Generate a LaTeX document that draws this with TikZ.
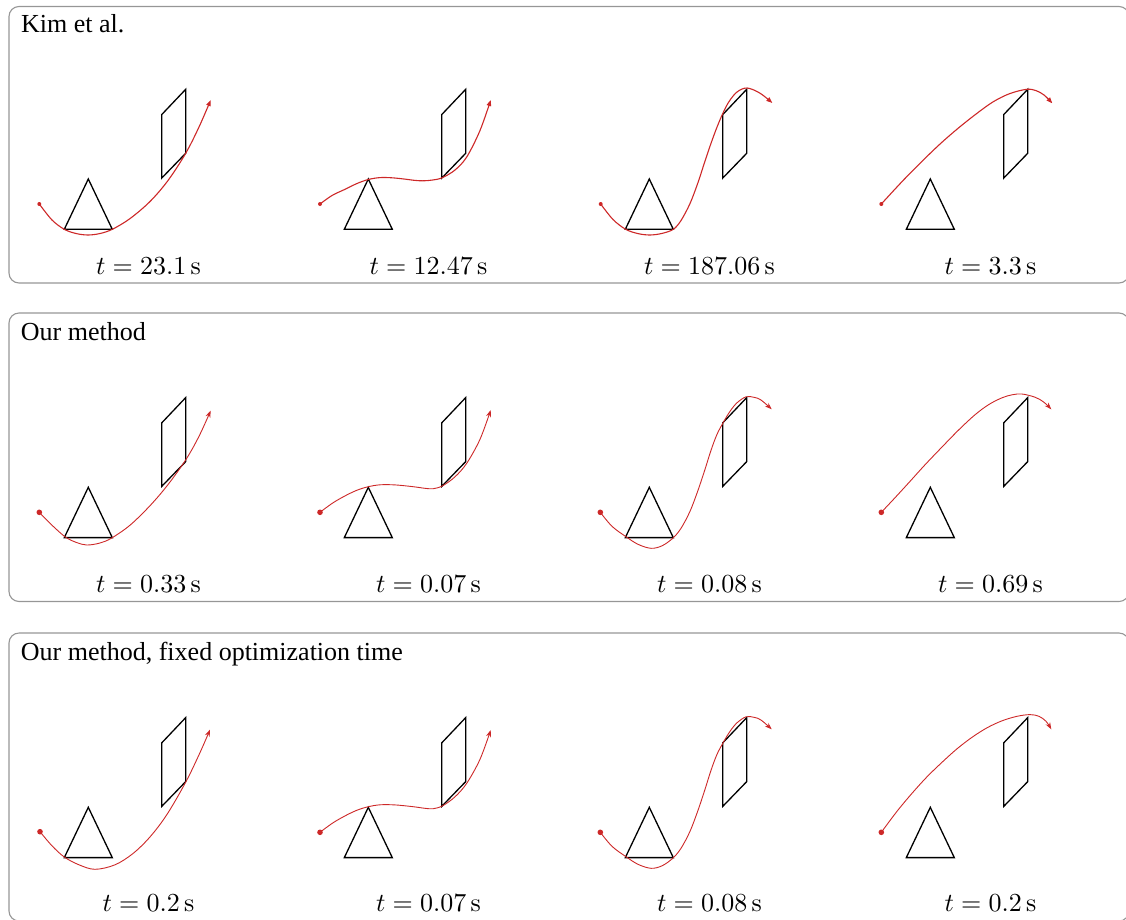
\documentclass[tikz,border=0pt]{standalone}
\usepackage[no-math]{fontspec}
\setmainfont{Liberation Serif}
\DeclareFontShape{OT1}{cmr}{m}{n}{<->cmr10}{}
\DeclareFontShape{OML}{cmm}{m}{it}{<->cmmi10}{}
\DeclareFontShape{OMS}{cmsy}{m}{n}{<->cmsy10}{}
\DeclareFontShape{OMX}{cmex}{m}{n}{<->cmex10}{}
\usetikzlibrary{arrows.meta}
\definecolor{trajred}{RGB}{205,40,40}
\definecolor{panelgray}{RGB}{150,150,150}
\tikzset{
  panelbox/.style={draw=panelgray, line width=1.1pt, rounded corners=10pt},
  obst/.style={draw=black, line width=1.3pt, line join=miter},
  trajA/.style={draw=trajred, line width=1.1pt, -{Triangle[length=6pt,width=4.5pt]}},
  trajB/.style={draw=trajred, line width=0.9pt, -{Stealth[length=7pt,width=5pt]}},
  paneltitle/.style={anchor=base west, inner sep=0pt, font=\fontsize{26}{30}\selectfont},
  tlabel/.style={anchor=base, inner sep=0pt, font=\fontsize{26}{30}\selectfont},
  sm/.style={smooth, tension=0.55},
}
\newcommand\obstacles{%
  \draw[obst] (88.3,179) -- (64.3,229.3) -- (112.3,229.3) -- cycle;
  \draw[obst] (185.7,89.3) -- (161.8,114.5) -- (161.8,178) -- (185.7,153.3) -- cycle;}
% shared trajectories of panels 2 and 3
\newcommand\trajBtwo{(40,204) (53,194.5) (66.7,186.7) (78,181.5) (88.3,178.4) (100,176.5) (115,176.6) (133.3,178.4) (145,180) (153.3,180.4) (162.7,177.4) (175,168.5) (186.7,155) (200,131) (210.7,101.7)}
\newcommand\trajBthree{(39.3,204) (51,218) (65,228.4) (77,236) (90,240) (101,237.5) (111.7,230) (120,220) (129,203) (137,182) (144,161) (150,142) (156,126) (162.7,113.4) (169,103) (176,94.5) (185,88.5) (193,89) (200,91.7) (210.7,101)}
\begin{document}
\begin{tikzpicture}[x=1pt,y=-1pt]
\useasboundingbox (0,0) rectangle (1126,919);
% panels
\draw[panelbox] (9,6.5) rectangle (1129,283);
\draw[panelbox] (9,313) rectangle (1129,601.5);
\draw[panelbox] (9,633) rectangle (1129,921);
\node[paneltitle] (title1) at (21,32.3) {Kim et al.};
\node[paneltitle] (title2) at (20.7,340) {Our method};
\node[paneltitle] (title3) at (20.7,660) {Our method, fixed optimization time};
% ---------- panel 1
\begin{scope}[shift={(0,0)}]
  \obstacles
  \draw[trajA] plot[sm] coordinates {(39.3,204) (52,220) (64.3,229.3) (76,233.5) (88,235) (100,233.5) (112.3,229.3) (130,218.6) (150,201.5) (168,180.5) (185.7,153.3) (199,127) (210.7,100)};
  \fill[trajred] (39.3,204) circle (2);
  \node[tlabel] (l11) at (148.5,274) {$t=23.1\,\mathrm{s}$};
\end{scope}
\begin{scope}[shift={(280,0)}]
  \obstacles
  \draw[trajA] plot[sm] coordinates {(40,204) (52,195.5) (65,189.3) (77,183.5) (88.3,179.5) (100,177.6) (112,177.8) (124,179) (135,180.4) (143,180.8) (152,180.1) (162,177.8) (175,170) (186.7,157) (200,130.5) (210.7,100)};
  \fill[trajred] (40,204) circle (2);
  \node[tlabel] (l12) at (148.5,274) {$t=12.47\,\mathrm{s}$};
\end{scope}
\begin{scope}[shift={(561,0)}]
  \obstacles
  \draw[trajA] plot[sm] coordinates {(39.7,204) (52,219.5) (64.7,229.3) (77,233.6) (89,235) (101,233.4) (112.3,229.3) (120,220.5) (129,203.5) (137,182.5) (144,161) (150,143.3) (156,127.1) (162,113) (168,101.6) (176,92) (186,88) (199,93.2) (211.3,103)};
  \fill[trajred] (39.7,204) circle (2);
  \node[tlabel] (l13) at (148.5,274) {$t=187.06\,\mathrm{s}$};
\end{scope}
\begin{scope}[shift={(842,0)}]
  \obstacles
  \draw[trajA] plot[sm] coordinates {(39.3,204) (62,179.5) (84.7,156.7) (101,141.3) (118,126.7) (135,113.3) (151.3,101.7) (168,93.5) (184.7,89.3) (194,90.6) (202,95) (210.3,103.3)};
  \fill[trajred] (39.3,204) circle (2);
  \node[tlabel] (l14) at (148.5,274) {$t=3.3\,\mathrm{s}$};
\end{scope}
% ---------- panel 2
\begin{scope}[shift={(0,308.3)}]
  \obstacles
  \draw[trajB] plot[sm] coordinates {(39.3,204) (50,215) (65,228.4) (76,234) (86.7,236.7) (100,234.7) (111.7,229.7) (130,216.9) (150,197.4) (168,176.3) (186,151.1) (199,128) (210.7,102.3)};
  \fill[trajred] (39.3,204) circle (2.8);
  \node[tlabel] (l21) at (148.5,283.7) {$t=0.33\,\mathrm{s}$};
\end{scope}
\begin{scope}[shift={(280,308.3)}]
  \obstacles
  \draw[trajB] plot[sm] coordinates {\trajBtwo};
  \fill[trajred] (40,204) circle (2.8);
  \node[tlabel] (l22) at (148.5,283.7) {$t=0.07\,\mathrm{s}$};
\end{scope}
\begin{scope}[shift={(561,308.3)}]
  \obstacles
  \draw[trajB] plot[sm] coordinates {\trajBthree};
  \fill[trajred] (39.3,204) circle (2.8);
  \node[tlabel] (l23) at (148.5,283.7) {$t=0.08\,\mathrm{s}$};
\end{scope}
\begin{scope}[shift={(842,308.3)}]
  \obstacles
  \draw[trajB] plot[sm] coordinates {(39.3,204) (52,190.5) (66.7,174.5) (83,156.5) (100,138.7) (117,121.3) (133.3,106.2) (147,96.1) (160,89.5) (170,86.5) (180,85.7) (193.3,89) (202,94) (209.3,101)};
  \fill[trajred] (39.3,204) circle (2.8);
  \node[tlabel] (l24) at (148.5,283.7) {$t=0.69\,\mathrm{s}$};
\end{scope}
% ---------- panel 3
\begin{scope}[shift={(0,628.3)}]
  \obstacles
  \draw[trajB] plot[sm] coordinates {(40,203.4) (52,217.5) (64.3,228.7) (79,236.5) (95,241) (115,236.5) (133,225.2) (150,208.6) (167,186.1) (186,153.3) (200,124.3) (210,101.3)};
  \fill[trajred] (40,203.4) circle (2.8);
  \node[tlabel] (l31) at (148.5,283.4) {$t=0.2\,\mathrm{s}$};
\end{scope}
\begin{scope}[shift={(280,628.3)}]
  \obstacles
  \draw[trajB] plot[sm] coordinates {\trajBtwo};
  \fill[trajred] (40,204) circle (2.8);
  \node[tlabel] (l32) at (148.5,283.4) {$t=0.07\,\mathrm{s}$};
\end{scope}
\begin{scope}[shift={(561,628.3)}]
  \obstacles
  \draw[trajB] plot[sm] coordinates {\trajBthree};
  \fill[trajred] (39.3,204) circle (2.8);
  \node[tlabel] (l33) at (148.5,283.4) {$t=0.08\,\mathrm{s}$};
\end{scope}
\begin{scope}[shift={(842,628.3)}]
  \obstacles
  \draw[trajB] plot[sm] coordinates {(39.3,204) (55,183) (70,165) (85,148.5) (100,134) (115,120.5) (130,109) (145,99.5) (160,92.5) (175,88) (188,86.3) (197,88) (204,93) (209.3,101)};
  \fill[trajred] (39.3,204) circle (2.8);
  \node[tlabel] (l34) at (148.5,283.4) {$t=0.2\,\mathrm{s}$};
\end{scope}
\end{tikzpicture}
\end{document}
